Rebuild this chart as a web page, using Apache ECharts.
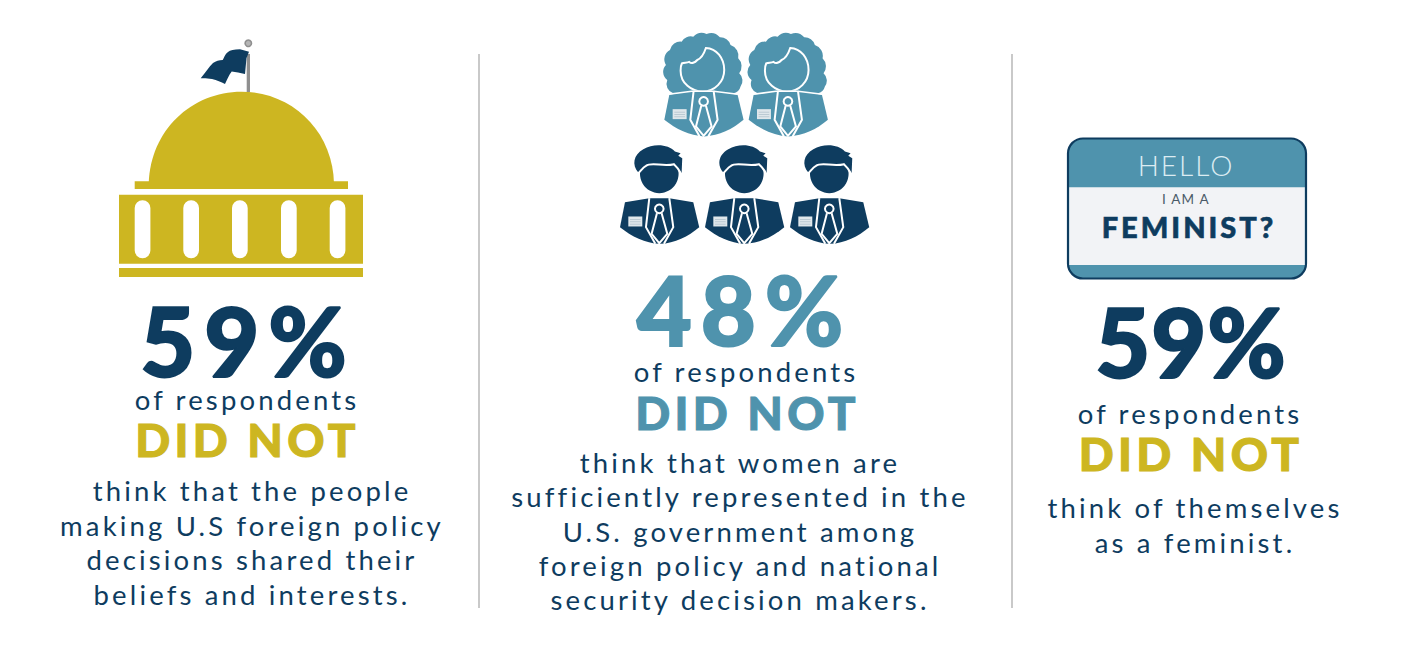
<!DOCTYPE html>
<html lang="en">
<head>
<meta charset="UTF-8">
<title>Respondents and foreign policy</title>
<script src="https://cdn.jsdelivr.net/npm/echarts@6/dist/echarts.min.js"></script>
<style>
    html, body { margin: 0; padding: 0; background: #fff; }
    #main { width: 1404px; height: 656px; }
</style>
</head>
<body>
<div id="main"></div>
<script>
// values and wording
var percents = [59, 48, 59];
var leadText = 'of respondents';
var emphasisText = 'DID NOT';
var bodyLeft = ['think that the people', 'making U.S foreign policy', 'decisions shared their', 'beliefs and interests.'];
var bodyMiddle = ['think that women are', 'sufficiently represented in the', 'U.S. government among', 'foreign policy and national', 'security decision makers.'];
var bodyRight = ['think of themselves', 'as a feminist.'];
var tagTexts = ['HELLO', 'I AM A', 'FEMINIST?'];
var womenCount = 2;
var menCount = 3;

var NAVY = '#0e3c5f', TEAL = '#4f93ad', GOLD = '#cdb621', GREY = '#c9c9c9';
var FONT = 'Lato';
var BODY_SIZE = 27.5, BODY_LS = 3.15;

var els = [];

// letter spacing (px) per text, put on the svg nodes after render
var spacing = [];
// heavy: extra stroke, the installed Lato stops short of the picture's weight
function text(str, x, y, size, color, weight, ls, heavy) {
    spacing.push({ str: str, size: size, ls: ls });
    var style = {
        text: str, fill: color, fontFamily: FONT, fontSize: size,
        fontWeight: weight || 'normal', align: 'center', verticalAlign: 'middle'
    };
    if (heavy) {
        style.stroke = color;
        style.lineWidth = heavy;
    }
    els.push({ type: 'text', x: x, y: y, silent: true, style: style });
}
function rect(x, y, w, h, color, r) {
    els.push({ type: 'rect', silent: true, shape: { x: x, y: y, width: w, height: h, r: r || 0 }, style: { fill: color } });
}
function path(d, style, group) {
    var el = { type: 'path', silent: true, shape: { pathData: d }, style: style };
    (group || els).push(el);
}

// dividers
rect(478, 54, 2, 554, GREY);
rect(1011, 54, 2, 554, GREY);

// capitol
rect(119, 268, 244, 9, GOLD);
rect(119, 194.7, 244, 69, GOLD);
[134.7, 183.3, 232, 281, 329.7].forEach(function (x) {
    rect(x, 200.3, 15.7, 58, '#fff', 7.8);
});
rect(134.7, 181.3, 213.3, 7.7, GOLD);
path('M148.7 184 C150 130 192 91.7 241.5 91.7 C291 91.7 333 130 334 184 Z', { fill: GOLD });
rect(246.7, 54, 3.3, 38, '#8f8f8f');
els.push({ type: 'circle', silent: true, shape: { cx: 248.3, cy: 43.3, r: 3.2 }, style: { fill: '#b5b5b5', stroke: '#8f8f8f', lineWidth: 1.6 } });
path('M249 51.7 L240 49.3 C234 49.5 230 50 228 52 C225 54 224 58 222.7 60 C219 60 216 61 213 63 C209 67 205 73 200.7 78.3 C205 78 208 78.5 212 79 C217 80 221 82 225 84 C227 80 229 75 231.7 71.5 C236 72 240 73 245 74 L246.5 58 Z', { fill: NAVY });

// people, drawn in 3x coordinates inside a scaled group
function bodyParts(dx, dy, color) {
    var c = [];
    var s = { fill: 'none', stroke: '#fff', lineWidth: 6 };
    path('M45 517 L118 505 L178 505 L250 517 L268 592 C235 620 195 640 150 642 C105 640 65 620 30 592 Z', { fill: color }, c);
    path('M118 505 L108 592 L136 642', s, c);
    path('M178 505 L190 592 L162 642', s, c);
    path('M141 550 L125 612 L148 640 L172 612 L155 550', s, c);
    c.push({ type: 'circle', silent: true, shape: { cx: 148, cy: 537, r: 13 }, style: s });
    c.push({ type: 'rect', silent: true, shape: { x: 55, y: 560, width: 42, height: 30 }, style: { fill: '#dfe7eb' } });
    [568, 575, 582].forEach(function (y) {
        c.push({ type: 'rect', silent: true, shape: { x: 60, y: y, width: 32, height: 2 }, style: { fill: '#a9bcc8' } });
    });
    return { type: 'group', x: dx, y: dy, children: c };
}
function man(dx) {
    var c = [];
    c.push({ type: 'circle', silent: true, shape: { cx: 148, cy: 432, r: 58 }, style: { fill: NAVY } });
    path('M85 428 C65 405 70 375 100 358 C130 340 175 342 195 365 L212 370 L205 378 L217 385 L215 432 C208 420 200 410 192 403 C160 412 125 395 108 408 C100 412 95 420 85 428 Z', { fill: NAVY }, c);
    path('M85 431 C95 420 100 412 108 408 C125 395 160 412 192 403 C200 410 208 420 215 434', { fill: 'none', stroke: '#fff', lineWidth: 6 }, c);
    c.push(bodyParts(0, 0, NAVY));
    return { type: 'group', x: dx, y: 0, children: c };
}
function woman(dx) {
    var c = [];
    path('M190 190 A30 30 0 0 1 172 150 A30 30 0 0 1 168 105 A32 32 0 0 1 180 60 A32 32 0 0 1 215 35 A32 32 0 0 1 250 20 A36 36 0 0 1 290 12 A36 36 0 0 1 330 22 A32 32 0 0 1 362 45 A34 34 0 0 1 385 85 A34 34 0 0 1 388 130 A30 30 0 0 1 392 170 A26 26 0 0 1 370 190 Z', { fill: TEAL }, c);
    path('M212 122 C212 160 245 185 278 185 C315 185 343 155 343 120 C343 85 320 55 288 54 C282 72 275 85 262 90 C255 98 245 102 238 96 C230 100 222 96 216 100 C213 106 212 114 212 122 Z', { fill: TEAL, stroke: '#fff', lineWidth: 6 }, c);
    c.push(bodyParts(133, -322, TEAL));
    path('M176 193 L245 184 L311 184 L384 193', { fill: 'none', stroke: '#fff', lineWidth: 5 }, c);
    return { type: 'group', x: dx, y: 0, children: c };
}
var people = [];
for (var i = 0; i < womenCount; i++) people.push(woman(i * 253));
for (var j = 0; j < menCount; j++) people.push(man(j * 255));
els.push({ type: 'group', x: 610, y: 30, scaleX: 1 / 3, scaleY: 1 / 3, children: people });

// name tag
els.push({ type: 'rect', silent: true, shape: { x: 1068, y: 138.5, width: 238, height: 140, r: 15 }, style: { fill: TEAL, stroke: NAVY, lineWidth: 2.2 } });
rect(1069.2, 187.3, 235.6, 77.7, '#f2f3f6');
text(tagTexts[0], 1186, 164.5, 28, '#dcecf2', 300, 2);
text(tagTexts[1], 1186, 199, 13.5, '#4a5a68', 'normal', 1.2);
text(tagTexts[2], 1189, 226.5, 29, NAVY, 900, 3, 0.6);

// left column
text(percents[0] + '%', 248, 339.5, 95, NAVY, 900, 9, 2);
text(leadText, 247, 399.5, BODY_SIZE, NAVY, 'normal', BODY_LS);
text(emphasisText, 247.5, 439, 46, GOLD, 900, 4.3, 1);
bodyLeft.forEach(function (s, i) { text(s, 252, 490.5 + i * 34.5, BODY_SIZE, NAVY, 'normal', BODY_LS); });

// middle column
text(percents[1] + '%', 744.5, 309, 95, TEAL, 900, 9, 2);
text(leadText, 746, 371.5, BODY_SIZE, NAVY, 'normal', BODY_LS);
text(emphasisText, 747.5, 412, 46, TEAL, 900, 4.3, 1);
bodyMiddle.forEach(function (s, i) { text(s, 740, 462.5 + i * 34.3, BODY_SIZE, NAVY, 'normal', BODY_LS); });

// right column
text(percents[2] + '%', 1191, 341, 95, NAVY, 900, 1, 2);
text(leadText, 1190, 413.5, BODY_SIZE, NAVY, 'normal', BODY_LS);
text(emphasisText, 1191, 453, 46, GOLD, 900, 4.3, 1);
bodyRight.forEach(function (s, i) { text(s, 1195, 507.5 + i * 34.5, BODY_SIZE, NAVY, 'normal', BODY_LS); });

var myChart = echarts.init(document.getElementById('main'), null, { renderer: 'svg', width: 1404, height: 656 });
// graphic component has no free path type, a custom series does
myChart.setOption({
    backgroundColor: '#fff',
    animation: false,
    series: [{
        type: 'custom',
        coordinateSystem: 'none',
        silent: true,
        data: [[0]],
        renderItem: function () {
            return { type: 'group', children: els };
        }
    }]
});

// zrender has no letter spacing option, svg text takes it from css
function applySpacing() {
    var nodes = document.querySelectorAll('#main svg text');
    var used = {};
    nodes.forEach(function (n) {
        var key = n.textContent;
        var list = spacing.filter(function (s) { return s.str === key; });
        var k = used[key] || 0;
        used[key] = k + 1;
        if (list.length) n.style.letterSpacing = list[Math.min(k, list.length - 1)].ls + 'px';
    });
}
applySpacing();
myChart.on('finished', applySpacing);
</script>
</body>
</html>
